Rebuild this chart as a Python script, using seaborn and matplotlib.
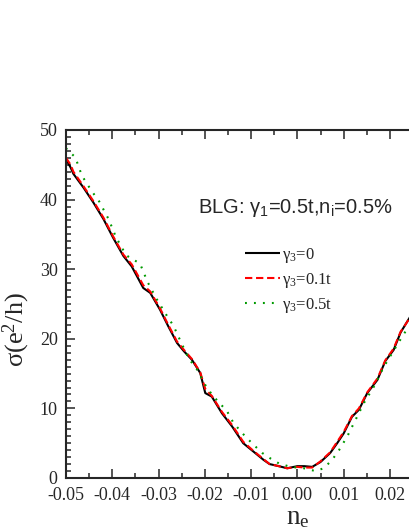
import matplotlib
matplotlib.use("Agg")
import matplotlib.pyplot as plt
import matplotlib.ticker as mticker
import seaborn as sns
import pandas as pd

# ---- data ----
x_g0 = [-0.0500, -0.0490, -0.0484, -0.0462, -0.0441, -0.0419, -0.0398, -0.0376,
        -0.0358, -0.0333, -0.0318, -0.0297, -0.0279, -0.0260, -0.0245, -0.0228,
        -0.0210, -0.0199, -0.0185, -0.0163, -0.0141, -0.0117, -0.0095, -0.0073,
        -0.0060, -0.0040, -0.0022, 0.0000, 0.0015, 0.0032, 0.0050, 0.0071, 0.0086,
        0.0100, 0.0118, 0.0133, 0.0151, 0.0173, 0.0190, 0.0208, 0.0223, 0.0245]
y_g0 = [45.8, 44.6, 43.7, 41.7, 39.6, 37.2, 34.5, 31.9,
        30.4, 27.3, 26.6, 24.2, 21.8, 19.4, 18.2, 17.0,
        15.1, 12.2, 11.7, 9.3, 7.4, 5.0, 3.8, 2.6,
        2.0, 1.7, 1.4, 1.7, 1.7, 1.6, 2.3, 3.6, 5.0,
        6.4, 8.8, 9.8, 12.2, 14.1, 16.8, 18.4, 20.9, 23.3]
x_g01 = x_g0
y_g01 = [46.0, 45.0, 44.0, 41.9, 39.8, 37.4, 34.7, 32.1,
         30.7, 27.7, 26.8, 24.4, 22.0, 19.6, 18.4, 17.1,
         15.2, 12.8, 11.8, 9.5, 7.6, 5.2, 3.9, 2.7,
         2.0, 1.7, 1.4, 1.6, 1.5, 1.5, 2.4, 3.7, 5.2,
         6.6, 8.9, 10.0, 12.3, 14.3, 16.9, 18.6, 21.0, 23.2]
x_g05 = [-0.0500, -0.0495, -0.0480, -0.0466, -0.0455, -0.0442, -0.0428, -0.0408,
         -0.0392, -0.0370, -0.0340, -0.0324, -0.0304, -0.0281, -0.0268, -0.0250,
         -0.0235, -0.0217, -0.0196, -0.0181, -0.0152, -0.0138, -0.0113, -0.0095,
         -0.0076, -0.0058, -0.0040, -0.0015, 0.0014, 0.0039, 0.0057, 0.0075,
         0.0090, 0.0108, 0.0126, 0.0144, 0.0166, 0.0187, 0.0209, 0.0231, 0.0245]
y_g05 = [47.4, 47.0, 46.1, 43.5, 42.3, 41.0, 39.7, 37.2,
         34.6, 32.0, 30.8, 28.2, 25.7, 23.2, 21.9, 19.3,
         17.2, 15.6, 13.0, 11.7, 9.6, 7.9, 6.0, 4.8,
         3.6, 2.8, 2.1, 1.6, 1.4, 1.0, 1.4, 2.6,
         4.0, 6.0, 8.4, 10.8, 13.2, 16.0, 18.4, 20.8, 22.0]

labels = [r"γ$_{3}$=0", r"γ$_{3}$=0.1t", r"γ$_{3}$=0.5t"]
colors = ["#000000", "#ff0000", "#009a00"]

x_ticks = [-0.05, -0.04, -0.03, -0.02, -0.01, 0.00, 0.01, 0.02]
y_ticks = [0, 10, 20, 30, 40, 50]

df = pd.concat([
    pd.DataFrame({"ne": x_g0, "sigma": y_g0, "series": labels[0]}),
    pd.DataFrame({"ne": x_g01, "sigma": y_g01, "series": labels[1]}),
    pd.DataFrame({"ne": x_g05, "sigma": y_g05, "series": labels[2]}),
], ignore_index=True)

# ---- style ----
sns.set_style("ticks")
plt.rcParams["font.family"] = ["Liberation Serif", "DejaVu Serif"]
plt.rcParams["mathtext.fontset"] = "custom"
plt.rcParams["mathtext.rm"] = "Liberation Serif"
plt.rcParams["mathtext.it"] = "Liberation Serif:italic"
plt.rcParams["mathtext.sf"] = "Liberation Sans"
plt.rcParams["axes.unicode_minus"] = False

fig = plt.figure(figsize=(4.09, 5.29), dpi=100)
ax = fig.add_axes([66 / 409, 1 - 478 / 529, 1 - 66 / 409 + 0.002, (478 - 130) / 529])

styles = {labels[0]: (0, ()), labels[1]: (0, (3.5, 1.8)), labels[2]: (0, (0.9, 3.4))}
for lab, col in zip(labels, colors):
    sub = df[df["series"] == lab]
    sns.lineplot(data=sub, x="ne", y="sigma", ax=ax, color=col, lw=1.5,
                 linestyle=styles[lab], label=lab, sort=False)

ax.set_xlim(-0.05, 0.0243)
ax.set_ylim(0, 50)
ax.set_xticks(x_ticks)
ax.set_yticks(y_ticks)
ax.xaxis.set_major_formatter(mticker.FormatStrFormatter("%.2f"))
ax.xaxis.set_minor_locator(mticker.MultipleLocator(0.005))
ax.yaxis.set_minor_locator(mticker.MultipleLocator(1))

for s in ["left", "bottom", "top"]:
    ax.spines[s].set_linewidth(1.5)
ax.spines["right"].set_visible(False)

ax.tick_params(axis="both", which="both", direction="in", top=True, right=False,
               labelsize=13, width=1.1)
ax.tick_params(axis="both", which="major", length=6.5)
ax.tick_params(axis="both", which="minor", length=3.5)
ax.tick_params(axis="x", which="major", pad=6.5)
ax.tick_params(axis="y", which="major", pad=6)

ax.set_xlabel(r"n$_{\mathrm{e}}$", fontsize=19.5)
ax.set_ylabel(r"σ(e$^{2}$/h)", fontsize=19)
ax.xaxis.set_label_coords((297 - 66) / 343, -0.079)
ax.yaxis.set_label_coords(-0.10, (478 - 330) / 348)

leg = ax.legend(loc="upper left", bbox_to_anchor=(245 / 409, 1 - 246 / 529),
                bbox_transform=fig.transFigure, frameon=False, fontsize=12,
                handlelength=2.1, handletextpad=0.15, borderpad=0,
                borderaxespad=0, labelspacing=0.35)

fig.text(198 / 409, 1 - 213 / 529,
         r"BLG: γ$_{\mathsf{1}}$=0.5t,n$_{\mathsf{i}}$=0.5%",
         fontsize=14.5, family=["Liberation Sans", "DejaVu Sans"], va="baseline")

fig.savefig("out.png", dpi=100)
